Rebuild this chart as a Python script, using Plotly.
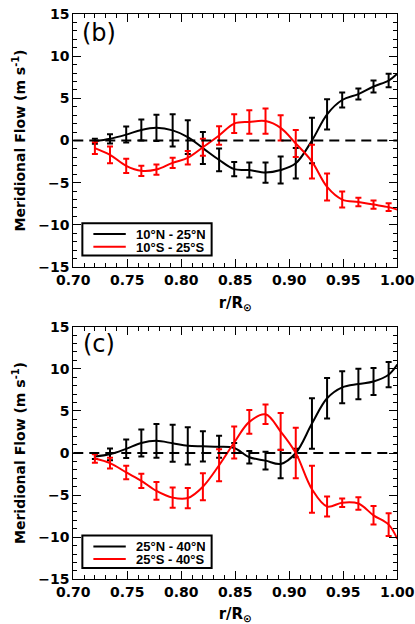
import plotly.graph_objects as go

# radius sample points (r / R_sun) and the outer edge the curves run to
r = [0.720, 0.734, 0.749, 0.763, 0.777, 0.792, 0.806, 0.820, 0.835, 0.849,
     0.863, 0.878, 0.892, 0.906, 0.921, 0.935, 0.949, 0.964, 0.978, 0.992]
r_edge = 1.00

# panel (b): 10-25 deg
b_north = [-0.1, 0.2, 0.7, 1.25, 1.5, 1.2, 0.4, -0.9, -2.3, -3.4,
           -3.5, -3.8, -3.5, -2.7, 0.0, 3.1, 4.8, 5.5, 6.4, 7.1]
b_north_err = [0.3, 0.55, 0.95, 1.25, 1.55, 1.9, 2.0, 1.9, 1.35, 0.85,
               0.9, 1.2, 1.6, 1.8, 2.7, 1.8, 0.9, 0.65, 0.7, 0.8]
b_north_edge = 7.9
b_south = [-0.9, -1.7, -3.0, -3.6, -3.45, -2.65, -2.05, -0.8, 0.6, 2.0,
           2.2, 2.3, 1.5, -0.35, -2.5, -5.5, -7.0, -7.3, -7.6, -7.9]
b_south_err = [0.7, 1.0, 0.85, 0.6, 0.6, 0.6, 0.8, 1.0, 1.1, 1.1,
               1.4, 1.5, 1.5, 1.6, 2.0, 1.6, 0.95, 0.5, 0.5, 0.45]
b_south_edge = -8.2

# panel (c): 25-40 deg
c_north = [-0.4, -0.15, 0.5, 1.2, 1.45, 1.15, 0.85, 0.8, 0.75, 0.6,
           -0.5, -0.9, -1.3, 0.0, 3.5, 6.5, 7.8, 8.2, 8.5, 9.3]
c_north_err = [0.3, 0.7, 1.1, 1.6, 2.0, 2.2, 2.2, 1.8, 1.3, 0.6,
               0.75, 1.05, 1.7, 0.5, 3.0, 2.4, 1.9, 1.8, 1.6, 1.5]
c_north_edge = 10.5
c_south = [-0.65, -1.2, -2.3, -3.3, -4.5, -5.3, -5.35, -4.0, -1.45, 1.25,
           3.7, 4.6, 2.55, 0.0, -4.3, -6.35, -5.9, -6.0, -7.4, -8.5]
c_south_err = [0.5, 0.65, 0.8, 0.85, 1.05, 1.2, 1.2, 1.6, 1.9, 1.9,
               1.4, 1.15, 2.2, 3.0, 2.8, 1.2, 0.5, 0.75, 1.1, 1.35]
c_south_edge = -10.2

panels = [
    ("(b)", "x", "y", [("10°N - 25°N", b_north, b_north_err, b_north_edge, "black"),
                       ("10°S - 25°S", b_south, b_south_err, b_south_edge, "red")]),
    ("(c)", "x2", "y2", [("25°N - 40°N", c_north, c_north_err, c_north_edge, "black"),
                         ("25°S - 40°S", c_south, c_south_err, c_south_edge, "red")]),
]

FONT = "DejaVu Sans"
fig = go.Figure()

for label, xa, ya, series in panels:
    for name, vals, err, edge, col in series:
        fig.add_trace(go.Scatter(x=r + [r_edge], y=vals + [edge], mode="lines",
                                 line=dict(color=col, width=2, shape="spline", smoothing=1),
                                 xaxis=xa, yaxis=ya, showlegend=False, hoverinfo="skip"))
        fig.add_trace(go.Scatter(x=r, y=vals, mode="markers",
                                 marker=dict(size=1, color="rgba(0,0,0,0)"),
                                 error_y=dict(type="data", array=err, color=col, thickness=2, width=3),
                                 xaxis=xa, yaxis=ya, showlegend=False))

axis_common = dict(showline=True, linecolor="black", linewidth=1, mirror="allticks",
                   ticks="inside", ticklen=8, tickcolor="black", showgrid=False, zeroline=False,
                   automargin=False,
                   tickfont=dict(family=FONT, size=14, color="black", weight="bold"))

xdom = [0.1766, 0.9573]
ydoms = [[0.5721, 0.9776], [0.0716, 0.4764]]

layout = dict(width=415, height=624, margin=dict(l=0, r=0, t=0, b=0),
              paper_bgcolor="white", plot_bgcolor="white", showlegend=False)
for i, (xa, ya) in enumerate([("xaxis", "yaxis"), ("xaxis2", "yaxis2")]):
    layout[xa] = dict(axis_common, domain=xdom, range=[0.70, 1.00], dtick=0.05, tick0=0.70,
                      tickformat=".2f", anchor="y" if i == 0 else "y2",
                      minor=dict(ticks="inside", ticklen=4, dtick=0.01, tickcolor="black"),
                      title=dict(text="r/R<sub>⊙</sub>", standoff=10,
                                 font=dict(family=FONT, size=15, color="black", weight="bold")))
    layout[ya] = dict(axis_common, domain=ydoms[i], range=[-15, 15], dtick=5,
                      anchor="x" if i == 0 else "x2",
                      minor=dict(ticks="inside", ticklen=4, dtick=1, tickcolor="black"),
                      title=dict(text="Meridional Flow (m s<sup>-1</sup>)", standoff=9,
                                 font=dict(family=FONT, size=14, color="black", weight="bold")))
fig.update_layout(**layout)

shapes = []
annotations = []
label_y = [0.924, 0.93]
for i, (label, xa, ya, series) in enumerate(panels):
    xd, yd = xa + " domain", ya + " domain"
    shapes.append(dict(type="line", xref=xd, yref=ya, x0=0, x1=1, y0=0, y1=0,
                       line=dict(color="black", width=2, dash="10px,6px")))
    shapes.append(dict(type="rect", xref=xd, yref=yd, x0=0.028, x1=0.427, y0=0.045, y1=0.173,
                       line=dict(color="black", width=2), fillcolor="white"))
    for j, (name, vals, err, edge, col) in enumerate(series):
        yy = 0.130 - j * 0.05
        shapes.append(dict(type="line", xref=xd, yref=yd, x0=0.062, x1=0.162, y0=yy, y1=yy,
                           line=dict(color=col, width=2)))
        annotations.append(dict(xref=xd, yref=yd, x=0.19, y=yy, text=name, showarrow=False,
                                xanchor="left", yanchor="middle", height=12, borderpad=0,
                                font=dict(family="Liberation Sans", size=13, color="black",
                                          weight="bold")))
    annotations.append(dict(xref=xd, yref=yd, x=0.08, y=label_y[i], text=label, showarrow=False,
                            xanchor="center", yanchor="middle",
                            font=dict(family=FONT, size=24, color="black")))
fig.update_layout(shapes=shapes, annotations=annotations)

# drop the browser's default 8px body margin so the figure fills the window
fig.write_html("out.html", config={"displayModeBar": False},
               post_script="document.body.style.margin = '0';")
